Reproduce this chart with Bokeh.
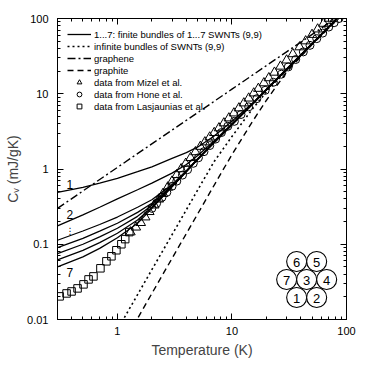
from bokeh.plotting import figure
from bokeh.models import Range1d, LogAxis, FixedTicker, Legend, LegendItem, CustomJSTickFormatter
from bokeh.embed import file_html
from bokeh.resources import INLINE
from bokeh.core.properties import value

FONT = "Liberation Sans"

# ---------------- data ----------------
T_curve = [0.3, 0.5, 0.7, 1, 1.5, 2, 3, 4, 5, 7, 10, 15, 20, 30, 50, 85]
c1 = [0.49, 0.57, 0.65, 0.75, 0.92, 1.07, 1.38, 1.65, 1.95, 2.75, 4.3, 7.4, 11.5, 21.4, 46.5, 104.5]
c2 = [0.175, 0.245, 0.31, 0.40, 0.53, 0.65, 0.88, 1.15, 1.5, 2.35, 4.0, 7.3, 11.4, 21.3, 46.4, 104.3]
c3 = [0.113, 0.150, 0.183, 0.23, 0.31, 0.39, 0.62, 0.95, 1.36, 2.28, 3.92, 7.25, 11.35, 21.2, 46.3, 104.2]
c4 = [0.090, 0.120, 0.149, 0.19, 0.265, 0.35, 0.60, 0.94, 1.35, 2.27, 3.9, 7.22, 11.3, 21.2, 46.2, 104.1]
c5 = [0.075, 0.100, 0.125, 0.163, 0.235, 0.33, 0.59, 0.93, 1.34, 2.26, 3.89, 7.2, 11.3, 21.1, 46.1, 104.0]
c6 = [0.062, 0.083, 0.105, 0.14, 0.21, 0.31, 0.585, 0.925, 1.335, 2.25, 3.88, 7.18, 11.25, 21.05, 46.0, 103.9]
c7 = [0.050, 0.068, 0.088, 0.122, 0.19, 0.30, 0.58, 0.92, 1.33, 2.25, 3.87, 7.17, 11.2, 21.0, 45.9, 103.8]
bundles = [c1, c2, c3, c4, c5, c6, c7]

inf_T = [1.15, 1.5, 2, 3, 5, 7, 10, 15, 20, 30, 50, 90]
inf_C = [0.0106, 0.0214, 0.046, 0.134, 0.52, 1.26, 2.7, 6.2, 10.6, 20.5, 45.5, 110]

graphene_T = [0.3, 1, 3, 10, 30, 60, 80]
graphene_C = [0.30, 1.05, 3.29, 11.5, 36.1, 74, 100]

graphite_T = [1.52, 2, 3, 5, 8, 10, 15, 20, 30, 50, 90]
graphite_C = [0.0107, 0.0222, 0.065, 0.25, 0.87, 1.55, 4.2, 8.2, 19.5, 45, 108]

mizel_T = [1.3, 1.45, 1.6, 1.75, 1.9, 2.1, 2.3, 2.5, 2.75, 3.0, 3.3, 3.6, 3.95, 4.35, 4.8,
           5.3, 5.8, 6.4, 7.0, 7.7, 8.5, 9.4, 10.4, 11.5, 12.7, 14, 15.5, 17, 19, 21,
           23.5, 26.5, 30, 34, 39, 44, 50, 56, 63, 70]
mizel_C = [0.145, 0.168, 0.193, 0.229, 0.270, 0.330, 0.396, 0.470, 0.573, 0.686, 0.836, 1.0,
           1.183, 1.408, 1.683, 1.985, 2.276, 2.644, 3.03, 3.50, 4.07, 4.74, 5.52, 6.44, 7.50,
           8.70, 10.17, 11.71, 13.88, 16.2, 19.2, 23.1, 27.9, 33.8, 41.7, 50.1, 61, 72.1, 85.7, 100]

hone_T = [2.0, 2.2, 2.45, 2.7, 3.0, 3.3, 3.7, 4.1, 4.6, 5.1, 5.7, 6.4, 7.2, 8.1, 9.2, 10.5,
          12, 14, 16.5, 19.5, 23, 27, 31, 36, 42, 48, 55, 62, 70, 78, 86]
hone_C = [0.30, 0.35, 0.42, 0.49, 0.59, 0.69, 0.83, 0.98, 1.19, 1.41, 1.7, 2.05, 2.5, 3.05,
          3.7, 4.3, 5.3, 6.7, 8.6, 11.1, 14.2, 18.2, 22.7, 28.5, 36, 44, 54, 64, 77, 88, 100]

lasj_T = [0.313, 0.36, 0.398, 0.449, 0.506, 0.56, 0.618, 0.711, 0.802, 0.887, 0.98, 1.083, 1.17, 1.27]
lasj_C = [0.0203, 0.0222, 0.0236, 0.0259, 0.0293, 0.0341, 0.0374, 0.0479, 0.0593, 0.0692,
          0.0832, 0.1, 0.117, 0.145]

curve_labels = ["1", "2", "7"]
curve_label_T = [0.385, 0.385, 0.385]
curve_label_C = [0.63, 0.25, 0.042]
ellipsis_T, ellipsis_C = [0.385], [0.152]

hex_labels = ["6", "5", "7", "3", "4", "1", "2"]
hex_col = [-0.5, 0.5, -1, 0, 1, -0.5, 0.5]
hex_row = [1, 1, 0, 0, 0, -1, -1]
hex_center_T, hex_center_C = 44.9, 0.034
hex_step_T, hex_step_C = 0.1747, 0.239   # decades per cell

x_major = [1, 10, 100]
x_labels = ["1", "10", "100"]
y_major = [0.01, 0.1, 1, 10, 100]
y_labels = ["0.01", "0.1", "1", "10", "100"]

legend_labels = ["1...7: finite bundles of 1...7 SWNTs (9,9)",
                 "infinite bundles of SWNTs (9,9)",
                 "graphene", "graphite",
                 "data from Mizel et al.", "data from Hone et al.",
                 "data from Lasjaunias et al."]

# ---------------- figure ----------------
p = figure(width=358, height=361, x_axis_type="log", y_axis_type="log",
           x_range=Range1d(0.3, 100), y_range=Range1d(0.01, 100),
           output_backend="svg", toolbar_location=None,
           min_border_left=57, min_border_right=12, min_border_top=18, min_border_bottom=42)
p.grid.visible = False
p.outline_line_color = "black"
p.outline_line_width = 1
p.background_fill_color = "white"
p.border_fill_color = "white"

def minor_for(lo_exp, hi_exp):
    out = []
    for e in range(lo_exp, hi_exp):
        for m in range(2, 10):
            out.append(m * 10.0 ** e)
    return out

x_ticker = FixedTicker(ticks=x_major, minor_ticks=minor_for(-1, 2))
y_ticker = FixedTicker(ticks=y_major, minor_ticks=minor_for(-2, 2))

def style_axis(ax, ticker, labels=None, show_labels=True):
    ax.ticker = ticker
    ax.axis_line_color = "black"
    ax.major_tick_in = 6
    ax.major_tick_out = 0
    ax.minor_tick_in = 3
    ax.minor_tick_out = 0
    ax.major_tick_line_color = "black"
    ax.minor_tick_line_color = "black"
    if show_labels:
        ax.major_label_overrides = {t: l for t, l in zip(ticker.ticks, labels)}
        ax.major_label_text_font = FONT
        ax.major_label_text_font_size = "11px"
        ax.major_label_text_color = "black"
    else:
        ax.formatter = CustomJSTickFormatter(code="return ''")
        ax.major_label_text_font_size = "1px"
        ax.major_label_standoff = 0

xa = p.xaxis[0]
style_axis(xa, x_ticker, x_labels)
xa.major_label_standoff = 7
xa.axis_label = "Temperature (K)"
xa.axis_label_text_font = FONT
xa.axis_label_text_font_size = "14px"
xa.axis_label_text_font_style = "normal"
xa.axis_label_standoff = 4

ya = p.yaxis[0]
style_axis(ya, y_ticker, y_labels)
ya.major_label_standoff = 9
ya.axis_label = "C\u1d65 (mJ/gK)"
ya.axis_label_text_font = FONT
ya.axis_label_text_font_size = "14px"
ya.axis_label_text_font_style = "normal"
ya.axis_label_standoff = 3

top = LogAxis()
style_axis(top, FixedTicker(ticks=x_major, minor_ticks=minor_for(-1, 2)), show_labels=False)
p.add_layout(top, "above")
right = LogAxis()
style_axis(right, FixedTicker(ticks=y_major, minor_ticks=minor_for(-2, 2)), show_labels=False)
p.add_layout(right, "right")

# ---------------- curves ----------------
bundle_renderers = []
for c in bundles:
    r = p.line(T_curve, c, line_color="black", line_width=1.3)
    bundle_renderers.append(r)

r_inf = p.line(inf_T, inf_C, line_color="black", line_width=1.6, line_dash="2 3")
r_gr = p.line(graphene_T, graphene_C, line_color="black", line_width=1.4, line_dash="8 3 2 3")
r_gt = p.line(graphite_T, graphite_C, line_color="black", line_width=1.4, line_dash="6 4")

r_m = p.scatter(mizel_T, mizel_C, marker="triangle", size=9.5, fill_color=None,
                line_color="black", line_width=1)
r_h = p.scatter(hone_T, hone_C, marker="circle", size=8, fill_color=None,
                line_color="black", line_width=1)
r_l = p.scatter(lasj_T, lasj_C, marker="square", size=7.5, fill_color=None,
                line_color="black", line_width=1)

# curve labels
p.text(curve_label_T, curve_label_C, text=curve_labels, text_font=value(FONT),
       text_font_size="12px", text_align="center", text_baseline="middle", text_color="black")
p.text(ellipsis_T, ellipsis_C, text=["\u22ee"], text_font=value("DejaVu Sans"),
       text_font_size="9px", text_align="center", text_baseline="middle", text_color="black")

# hexagonal bundle sketch
hex_T = [hex_center_T * 10 ** (c * hex_step_T) for c in hex_col]
hex_C = [hex_center_C * 10 ** (r * hex_step_C) for r in hex_row]
p.scatter(hex_T, hex_C, marker="circle", size=20, fill_color="white",
          line_color="black", line_width=1.1)
p.text(hex_T, hex_C, text=hex_labels, text_font=value(FONT), text_font_size="13px",
       text_align="center", text_baseline="middle", text_color="black", y_offset=1)

# ---------------- legend ----------------
items = [LegendItem(label=legend_labels[0], renderers=[bundle_renderers[0]]),
         LegendItem(label=legend_labels[1], renderers=[r_inf]),
         LegendItem(label=legend_labels[2], renderers=[r_gr]),
         LegendItem(label=legend_labels[3], renderers=[r_gt]),
         LegendItem(label=legend_labels[4], renderers=[r_m]),
         LegendItem(label=legend_labels[5], renderers=[r_h]),
         LegendItem(label=legend_labels[6], renderers=[r_l])]
leg = Legend(items=items, location="top_left", margin=10, padding=0, spacing=0,
             glyph_width=24, glyph_height=12, label_height=12, label_standoff=3,
             label_text_font=FONT, label_text_font_size="9.5px", label_text_color="black",
             background_fill_alpha=0, border_line_alpha=0)
p.add_layout(leg)

open("out.html", "w").write(file_html(p, INLINE))
